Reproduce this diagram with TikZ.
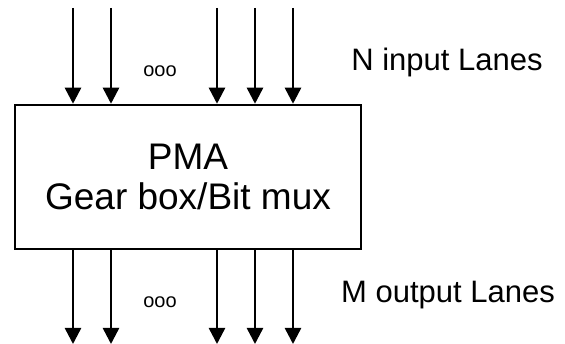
\documentclass[tikz,border=0pt]{standalone}
\usepackage{fontspec}
\setmainfont{Liberation Sans}
\usetikzlibrary{arrows.meta}

\begin{document}
\begin{tikzpicture}[
        x=1pt,
        y=-1pt,
        blockbox/.style={
            draw,
            line width=2.5pt,
            minimum width=346pt,
            minimum height=144pt,
            inner sep=0pt,
            align=center,
            font=\fontsize{37}{40}\selectfont
        },
        lane/.style={
            line width=2.5pt,
            -{Triangle[length=16pt,width=16pt]}
        },
        dots/.style={
            font=\fontsize{20}{22}\selectfont
        },
        sidelabel/.style={
            font=\fontsize{31}{34}\selectfont,
            inner sep=0pt
        }
    ]

    \useasboundingbox (0,0) rectangle (565,344);

    % ---------------------------------------------------------
    % Block
    % ---------------------------------------------------------
    \node[blockbox] (pma) at (188,177) {PMA\\Gear box/Bit mux};

    % ---------------------------------------------------------
    % Input and output lanes
    % ---------------------------------------------------------
    \foreach \x [count=\i] in {73,111,217,255,293} {
        \coordinate (in\i) at (\x,8);
        \coordinate (out\i) at (\x,344);
        \draw[lane] (in\i) -- (in\i |- pma.north);
        \draw[lane] (out\i |- pma.south) -- (out\i);
    }

    % Lanes left out
    \node[dots] (indots) at (160,71) {ooo};
    \node[dots] (outdots) at (160,302) {ooo};

    % Labels
    \node[sidelabel] (inlabel) at (447,62) {N input Lanes};
    \node[sidelabel] (outlabel) at (448,295) {M output Lanes};

\end{tikzpicture}
\end{document}
